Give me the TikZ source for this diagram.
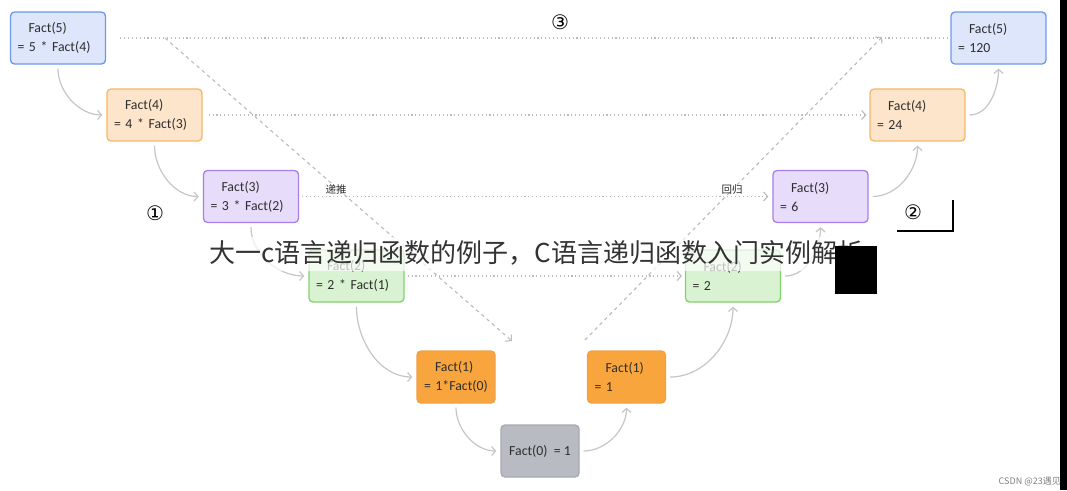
\documentclass[tikz,border=0pt]{standalone}
\usepackage{fontspec}
\setmainfont{Carlito}
\newfontfamily\cjk{Noto Sans CJK SC}
\newfontfamily\symf{DejaVu Sans}
\usetikzlibrary{arrows.meta}
\definecolor{bluefill}{HTML}{DDE6FB}\definecolor{blueline}{HTML}{6F98EA}
\definecolor{lofill}{HTML}{FDE5CB}\definecolor{loline}{HTML}{F5B866}
\definecolor{pufill}{HTML}{E7DDFB}\definecolor{puline}{HTML}{A67FE8}
\definecolor{grfill}{HTML}{D9F2D1}\definecolor{grline}{HTML}{80D46E}
\definecolor{orfill}{HTML}{F9A53E}\definecolor{orline}{HTML}{F0A048}
\definecolor{gyfill}{HTML}{B9BBC2}\definecolor{gyline}{HTML}{A7A9B0}
\definecolor{txt}{HTML}{2E2E2E}
\definecolor{lg}{HTML}{C6C6C6}
\definecolor{dg}{HTML}{BBBBBB}
\begin{document}
\begin{tikzpicture}[x=1pt,y=-1pt,
  factbox/.style={draw, rounded corners=4pt, line width=1.3pt, minimum height=52pt,
    inner xsep=7pt, inner ysep=0pt, align=left, text=txt,
    font=\fontsize{13.8}{19}\selectfont},
  wide/.style={text width=81pt},
  narrow/.style={text width=64pt},
  bluebox/.style={factbox, wide, fill=bluefill, draw=blueline},
  lobox/.style={factbox, wide, fill=lofill, draw=loline},
  pubox/.style={factbox, wide, fill=pufill, draw=puline},
  grbox/.style={factbox, wide, fill=grfill, draw=grline},
  orbox/.style={factbox, narrow, fill=orfill, draw=orline},
  gybox/.style={factbox, minimum width=78pt, fill=gyfill, draw=gyline},
  conn/.style={draw=lg, line width=1.2pt, -{Straight Barb[length=4pt,width=9pt]},
    shorten <=4pt, shorten >=4pt},
  dots/.style={draw=dg, line width=1.1pt, dash pattern=on 1.1pt off 2.8pt},
  dotarrow/.style={dots, -{Straight Barb[length=4pt,width=9pt]}},
  dashes/.style={draw=dg, line width=1.1pt, dash pattern=on 3.5pt off 3.5pt,
    -{Straight Barb[length=4pt,width=9pt]}},
  lbl/.style={font=\cjk\fontsize{10.5}{12}\selectfont, text=txt, inner sep=0pt},
  circnum/.style={font=\symf\fontsize{20}{20}\selectfont, text=black, inner sep=0pt},
]
\useasboundingbox[fill=white] (0,0) rectangle (1067,490);

% boxes
\node[bluebox] (F5L) at (58,38) {\hspace*{11pt}Fact(5)\\= 5 * Fact(4)};
\node[lobox]   (F4L) at (154.5,115) {\hspace*{11pt}Fact(4)\\= 4 * Fact(3)};
\node[pubox]   (F3L) at (251,196.5) {\hspace*{11pt}Fact(3)\\= 3 * Fact(2)};
\node[grbox]   (F2L) at (356.5,276) {\hspace*{11pt}Fact(2)\\= 2 * Fact(1)};
\node[orbox]   (F1L) at (456,377) {\hspace*{11pt}Fact(1)\\= 1*Fact(0)};
\node[gybox]   (F0)  at (540,451) {Fact(0)~~= 1};
\node[orbox]   (F1R) at (626.5,377) {\hspace*{11pt}Fact(1)\\= 1};
\node[grbox]   (F2R) at (733,276) {\hspace*{11pt}Fact(2)\\= 2};
\node[pubox]   (F3R) at (820.5,196.5) {\hspace*{11pt}Fact(3)\\= 6};
\node[lobox]   (F4R) at (917.5,115) {\hspace*{11pt}Fact(4)\\= 24};
\node[bluebox] (F5R) at (998.5,38) {\hspace*{11pt}Fact(5)\\= 120};

% dotted level lines
\draw[dots, shorten <=14pt, shorten >=3pt] (F5L.east) -- (F5R.west);
\draw[dotarrow, shorten <=6pt, shorten >=3pt] (F4L.east) -- (F4R.west);
\draw[dotarrow, shorten <=3pt, shorten >=4pt] (F3L.east) -- (F3R.west);
\draw[dotarrow, shorten <=3pt, shorten >=3pt] (F2L.east) -- (F2R.west);

% dashed diagonals
\coordinate (d1s) at (165,38);
\coordinate (d1e) at (512,341);
\coordinate (d2s) at (585,340);
\coordinate (d2e) at (882,37);
\draw[dashes] (d1s) -- (d1e);
\draw[dashes] (d2s) -- (d2e);

% labels
\node[lbl] (tui) at (336,189) {递推};
\node[lbl] (hui) at (732,190) {回归};

% curved connectors
\draw[conn] (F5L.south) to[out=-90,in=180] (F4L.west);
\draw[conn] (F4L.south) to[out=-90,in=180] (F3L.west);
\draw[conn] (F3L.south) to[out=-90,in=180] (F2L.west);
\draw[conn] (F2L.south) to[out=-90,in=180] (F1L.west);
\draw[conn] (F1L.south) to[out=-90,in=180] (F0.west);
\draw[conn] (F0.east) to[out=0,in=-90] (F1R.south);
\draw[conn] (F1R.east) to[out=0,in=-90] (F2R.south);
\draw[conn] (F2R.east) to[out=0,in=-90] (F3R.south);
\draw[conn] (F3R.east) to[out=0,in=-90] (F4R.south);
\draw[conn] (F4R.east) to[out=0,in=-90] (F5R.south);

% circled numbers
\node[circnum] (n1) at (155,213) {①};
\node[circnum] (n2) at (913,212) {②};
\node[circnum] (n3) at (560,22) {③};

% corner mark
\coordinate (c1) at (953,200);
\coordinate (c2) at (953,231);
\coordinate (c3) at (897,231);
\draw[black, line width=1.5pt] (c1) -- (c2) -- (c3);

% overlay title
\fill[white, opacity=0.7] (205,237) rectangle (872,271);
\node[anchor=west, font=\cjk\fontsize{26}{28}\selectfont, text={black!80}, inner sep=0pt] (title) at (209,253)
  {大一c语言递归函数的例子，C语言递归函数入门实例解析};
\fill[black] (835,246) rectangle (877,294);

% footer
\node[anchor=east, font=\cjk\fontsize{9}{10}\selectfont, text={black!50}, inner sep=0pt] (csdn) at (1061,482) {CSDN @23遇见};
\fill[black] (1060,0) rectangle (1067,490);
\end{tikzpicture}
\end{document}
